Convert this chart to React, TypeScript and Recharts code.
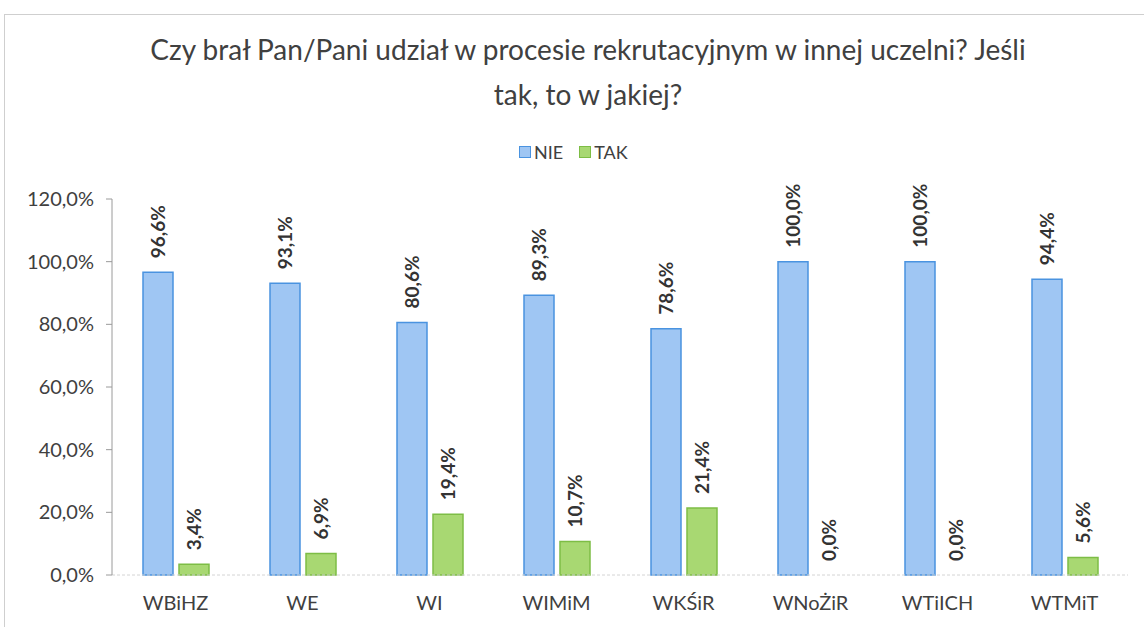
import React from "react";
import { BarChart, Bar, XAxis, YAxis, LabelList, Rectangle } from "recharts";

const categories = ["WBiHZ", "WE", "WI", "WIMiM", "WKŚiR", "WNoŻiR", "WTiICH", "WTMiT"];
const nieValues = [96.6, 93.1, 80.6, 89.3, 78.6, 100.0, 100.0, 94.4];
const takValues = [3.4, 6.9, 19.4, 10.7, 21.4, 0.0, 0.0, 5.6];
const yTicks = [0, 20, 40, 60, 80, 100, 120];
const titleLines = [
  "Czy brał Pan/Pani udział w procesie rekrutacyjnym w innej uczelni? Jeśli",
  "tak, to w jakiej?",
];
const seriesNames = ["NIE", "TAK"];

const data = categories.map((c, i) => ({ name: c, nie: nieValues[i], tak: takValues[i] }));

const FONT = "Lato, 'Open Sans', sans-serif";
const BLUE_FILL = "#9fc6f3";
const BLUE_STROKE = "#4a93e0";
const GREEN_FILL = "#a8d872";
const GREEN_STROKE = "#7dbd45";

const fmt = (v: number) => v.toFixed(1).replace(".", ",") + "%";

const VLabel = (props: any) => {
  const { x, y, width, value } = props;
  const cx = x + width / 2;
  const ty = y - 14;
  return (
    <text
      x={cx}
      y={ty}
      transform={`rotate(-90, ${cx}, ${ty})`}
      textAnchor="start"
      dominantBaseline="central"
      fontFamily={FONT}
      fontSize={19}
      fontWeight={700}
      fill="#333"
    >
      {fmt(Number(value))}
    </text>
  );
};

const BarShape = (props: any) => {
  if (!props.height || Math.abs(props.height) < 1) return <g />;
  return <Rectangle {...props} />;
};

export default function App() {
  return (
    <div style={{ position: "absolute", left: 0, top: 0, width: 1144, height: 627, background: "#fff", overflow: "hidden" }}>
      <div
        style={{
          position: "absolute",
          left: 4,
          top: 14,
          width: 1160,
          height: 640,
          border: "1px solid #cfcfcf",
        }}
      />
      <div
        style={{
          position: "absolute",
          left: 0,
          top: 27,
          width: 1176,
          textAlign: "center",
          fontFamily: FONT,
          fontSize: 28,
          color: "#404040",
          lineHeight: "45px",
        }}
      >
        {titleLines.map((l, i) => (
          <div key={i}>{l}</div>
        ))}
      </div>
      <div
        style={{
          position: "absolute",
          left: 519,
          top: 141,
          display: "flex",
          alignItems: "center",
          fontFamily: FONT,
          fontSize: 18,
          color: "#404040",
        }}
      >
        <span style={{ width: 10, height: 10, background: BLUE_FILL, border: `1px solid ${BLUE_STROKE}`, display: "inline-block", marginRight: 3 }} />
        <span style={{ marginRight: 16 }}>{seriesNames[0]}</span>
        <span style={{ width: 10, height: 10, background: GREEN_FILL, border: `1px solid ${GREEN_STROKE}`, display: "inline-block", marginRight: 3 }} />
        <span>{seriesNames[1]}</span>
      </div>
      <div style={{ position: "absolute", left: 0, top: 0 }}>
        <BarChart
          width={1144}
          height={627}
          data={data}
          margin={{ top: 199, right: 16, bottom: 22, left: 8 }}
          barGap={6}
          barCategoryGap="24%"
        >
          <XAxis
            dataKey="name"
            axisLine={{ stroke: "#d4d4d4", strokeDasharray: "3 2" }}
            tickLine={false}
            tickSize={0}
            tickMargin={21}
            height={30}
            interval={0}
            tick={{ fontFamily: FONT, fontSize: 20, fill: "#404040" }}
          />
          <YAxis
            domain={[0, 120]}
            ticks={yTicks}
            width={104}
            interval={0}
            axisLine={{ stroke: "#9a9a9a" }}
            tickLine={{ stroke: "#9a9a9a" }}
            tickSize={6}
            tickMargin={12}
            tickFormatter={(v: number) => fmt(v)}
            tick={{ fontFamily: FONT, fontSize: 20, fill: "#404040" }}
          />
          <Bar dataKey="nie" name={seriesNames[0]} fill={BLUE_FILL} stroke={BLUE_STROKE} strokeWidth={1.5} barSize={30} shape={BarShape} isAnimationActive={false}>
            <LabelList dataKey="nie" content={VLabel} />
          </Bar>
          <Bar dataKey="tak" name={seriesNames[1]} fill={GREEN_FILL} stroke={GREEN_STROKE} strokeWidth={1.5} barSize={30} minPointSize={0.01} shape={BarShape} isAnimationActive={false}>
            <LabelList dataKey="tak" content={VLabel} />
          </Bar>
        </BarChart>
      </div>
    </div>
  );
}
